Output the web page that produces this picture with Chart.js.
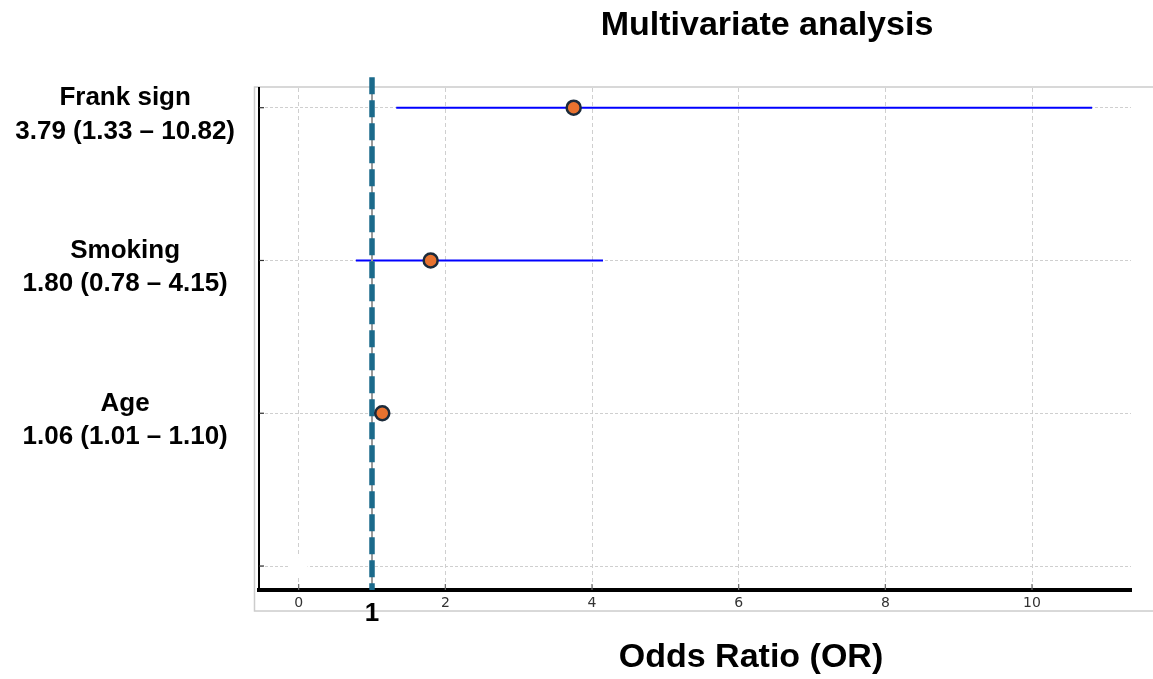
<!DOCTYPE html>
<html>
<head>
<meta charset="utf-8">
<script src="https://cdn.jsdelivr.net/npm/chart.js@4.4.1/dist/chart.umd.min.js"></script>
<style>
  html, body { margin: 0; padding: 0; background: #ffffff; }
  #wrap { width: 1153px; height: 679px; }
</style>
</head>
<body>
<div id="wrap"><canvas id="c" width="1153" height="679"></canvas></div>
<script>
// ---- data ----
const categories = ['Frank sign', 'Smoking', 'Age'];
const orLabels = ['3.79 (1.33 – 10.82)', '1.80 (0.78 – 4.15)', '1.06 (1.01 – 1.10)'];
const orValues = [3.75, 1.80, 1.14];
const ciLower = [1.33, 0.78, 1.01];
const ciUpper = [10.82, 4.15, 1.10];
const rowPositions = [3, 2, 1];
const placeholderRow = 0;
const xTicks = [0, 2, 4, 6, 8, 10];
const yTicks = [0, 1, 2, 3];
const refValue = 1;
const chartTitle = 'Multivariate analysis';
const xTitle = 'Odds Ratio (OR)';

const X_MIN = -0.541, X_MAX = 11.35;
const Y_MIN = -0.157, Y_MAX = 3.129, REF_TOP = 3.2;

const boldFont = "'Liberation Sans', Arial, Helvetica, sans-serif";

const datasets = [];
datasets.push({
  type: 'scatter',
  label: 'OR',
  data: orValues.map((v, i) => ({ x: v, y: rowPositions[i] })),
  backgroundColor: '#e8722f',
  borderColor: '#1b2a3a',
  borderWidth: 2.5,
  pointRadius: 7,
  pointHoverRadius: 7
});
datasets.push({
  type: 'line',
  label: 'ref',
  data: [{ x: refValue, y: REF_TOP }, { x: refValue, y: Y_MIN }],
  borderColor: '#1b6a8b',
  borderWidth: 5.5,
  borderDash: [17, 6],
  pointRadius: 0,
  clip: false
});
datasets.push({
  type: 'line',
  label: 'refbg',
  data: [{ x: refValue, y: Y_MAX }, { x: refValue, y: Y_MIN }],
  borderColor: '#9a9a9a',
  borderWidth: 2,
  pointRadius: 0
});
categories.forEach((c, i) => {
  datasets.push({
    type: 'line',
    label: c + ' CI',
    data: [{ x: ciLower[i], y: rowPositions[i] }, { x: ciUpper[i], y: rowPositions[i] }],
    borderColor: '#0000ff',
    borderWidth: 2,
    pointRadius: 0
  });
});
datasets.push({
  type: 'scatter',
  label: 'placeholder',
  data: [{ x: 0, y: placeholderRow }],
  backgroundColor: '#ffffff',
  borderColor: '#ffffff',
  borderWidth: 0,
  pointRadius: 9
});

const decor = {
  id: 'decor',
  beforeDraw(chart) {
    const ctx = chart.ctx, a = chart.chartArea;
    ctx.save();
    ctx.fillStyle = '#ffffff';
    ctx.fillRect(0, 0, chart.width, chart.height);
    ctx.strokeStyle = '#cccccc';
    ctx.lineWidth = 1.5;
    ctx.strokeRect(a.left - 4.5, a.top - 1, chart.width + 10, a.bottom - a.top + 22);
    ctx.restore();
  },
  afterDatasetsDraw(chart) {
    const ctx = chart.ctx, a = chart.chartArea;
    const xs = chart.scales.x, ys = chart.scales.y;
    ctx.save();
    // inward tick marks on y axis
    ctx.strokeStyle = '#333333';
    ctx.lineWidth = 1.2;
    yTicks.forEach(v => {
      const y = ys.getPixelForValue(v);
      ctx.beginPath(); ctx.moveTo(a.left, y); ctx.lineTo(a.left + 5, y); ctx.stroke();
    });
    // inward tick marks on x axis
    ctx.strokeStyle = '#666666';
    xTicks.forEach(v => {
      const x = xs.getPixelForValue(v);
      ctx.beginPath(); ctx.moveTo(x, a.bottom); ctx.lineTo(x, a.bottom - 6); ctx.stroke();
    });
    // texts
    ctx.fillStyle = '#000000';
    ctx.textAlign = 'center';
    ctx.textBaseline = 'alphabetic';
    ctx.font = 'bold 34px ' + boldFont;
    ctx.fillText(chartTitle, 767, 35);
    ctx.fillText(xTitle, 751, 667);
    ctx.font = 'bold 26px ' + boldFont;
    ctx.fillText(String(refValue), xs.getPixelForValue(refValue), 621);
    ctx.restore();
  }
};

new Chart(document.getElementById('c'), {
  type: 'scatter',
  data: { datasets },
  plugins: [decor],
  options: {
    responsive: false,
    devicePixelRatio: 1,
    animation: false,
    layout: { padding: { left: 0, right: 22, top: 88, bottom: 59 } },
    plugins: { legend: { display: false }, tooltip: { enabled: false }, title: { display: false } },
    scales: {
      x: {
        type: 'linear',
        min: X_MIN, max: X_MAX,
        afterBuildTicks: s => { s.ticks = xTicks.map(v => ({ value: v })); },
        afterFit: s => { s.height = 30; },
        ticks: {
          color: '#333333',
          font: { family: "'DejaVu Sans', sans-serif", size: 14 },
          padding: 5,
          autoSkip: false,
          maxRotation: 0,
          callback: v => String(v)
        },
        grid: { color: '#cfcfcf', lineWidth: 1, drawTicks: false },
        border: { color: '#000000', width: 4, dash: [4, 3] }
      },
      y: {
        type: 'linear',
        min: Y_MIN, max: Y_MAX,
        afterBuildTicks: s => { s.ticks = yTicks.map(v => ({ value: v })); },
        afterFit: s => { s.width = 259; },
        ticks: {
          color: '#000000',
          font: { family: boldFont, size: 26, weight: 'bold', lineHeight: 1.29 },
          crossAlign: 'center',
          padding: 24,
          labelOffset: 7,
          callback: v => {
            const i = rowPositions.indexOf(v);
            return i >= 0 ? [categories[i], orLabels[i]] : '';
          }
        },
        grid: { color: '#cfcfcf', lineWidth: 1, drawTicks: false },
        border: { color: '#000000', width: 2, dash: [3, 2] }
      }
    }
  }
});
</script>
</body>
</html>
